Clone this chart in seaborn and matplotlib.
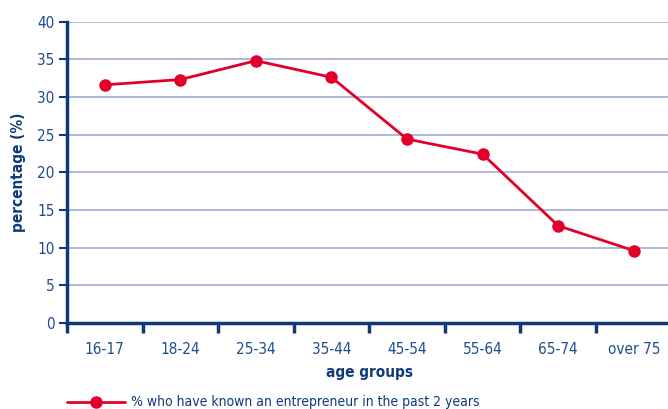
import matplotlib
matplotlib.use("Agg")
import matplotlib.pyplot as plt
import seaborn as sns
import pandas as pd
from matplotlib.lines import Line2D
from matplotlib import font_manager

age_groups = ["16-17", "18-24", "25-34", "35-44", "45-54", "55-64", "65-74", "over 75"]
pct_known = [31.6, 32.3, 34.8, 32.6, 24.4, 22.4, 12.9, 9.6]
y_ticks = [0, 5, 10, 15, 20, 25, 30, 35, 40]
series_label = "% who have known an entrepreneur in the past 2 years"

sns.set_theme(style="white")

# look for a condensed / narrow face
cond = None
for f in font_manager.fontManager.ttflist:
    fn = f.fname.lower()
    if ("condensed" in fn or "narrow" in fn or f.stretch in ("condensed", "semi-condensed")) \
            and f.style == "normal":
        if cond is None or "liberation" in fn:
            cond = f
if cond is not None:
    plt.rcParams["font.family"] = [cond.name, "DejaVu Sans"]
    plt.rcParams["font.stretch"] = cond.stretch
    fs_tick, fs_lab, fs_leg = 11, 11, 10
else:
    plt.rcParams["font.family"] = ["Roboto", "DejaVu Sans"]
    fs_tick, fs_lab, fs_leg = 10, 10, 9

navy = "#0d3b7a"
tick_col = "#1e4d8c"
grid_col = "#98a7d0"
red = "#e2002b"

df = pd.DataFrame({"age": age_groups, "pct": pct_known})

fig = plt.figure(figsize=(6.68, 4.09), dpi=100)
ax = fig.add_axes([0.1003, 0.2103, 0.905, 0.7371])

ax.set_axisbelow(True)
for v in y_ticks[1:]:
    ax.axhline(v, color=grid_col, lw=1.1, zorder=0)

sns.lineplot(data=df, x="age", y="pct", sort=False, ax=ax, color=red, lw=2,
             marker="o", markersize=9, markeredgewidth=0, zorder=3)

ax.set_xlim(-0.5, 7.5)
ax.set_ylim(0, 40)
ax.set_yticks(y_ticks)
ax.set_xticks(range(len(age_groups)))
ax.set_xticklabels(age_groups)
ax.set_xticks([i + 0.5 for i in range(-1, 7)], minor=True)

for s in ["top", "right"]:
    ax.spines[s].set_visible(False)
for s in ["left", "bottom"]:
    ax.spines[s].set_color(navy)
    ax.spines[s].set_linewidth(2.5)

ax.tick_params(axis="y", which="major", direction="out", length=6, width=1.5,
               color=navy, labelcolor=tick_col, labelsize=fs_tick, pad=3, left=True)
ax.tick_params(axis="x", which="major", length=0, labelcolor=tick_col, labelsize=fs_tick, pad=14)
ax.tick_params(axis="x", which="minor", direction="out", length=7, width=2.5,
               color=navy, bottom=True)

ax.set_xlabel("age groups", color=navy, fontsize=fs_lab, fontweight="bold")
ax.set_ylabel("percentage (%)", color=navy, fontsize=fs_lab, fontweight="bold")
ax.xaxis.set_label_coords(0.5, -0.14)
ax.yaxis.set_label_coords(-0.068, 0.5)
if ax.get_legend():
    ax.get_legend().remove()

handle = Line2D([], [], color=red, lw=2, marker="o", markersize=9, markeredgewidth=0)
fig.legend([handle], [series_label], loc="center left", bbox_to_anchor=(0.1003, 0.016),
           frameon=False, fontsize=fs_leg, handlelength=4.2, handletextpad=0.4,
           labelcolor=navy, borderpad=0, borderaxespad=0)

fig.savefig("out.png", dpi=100)
